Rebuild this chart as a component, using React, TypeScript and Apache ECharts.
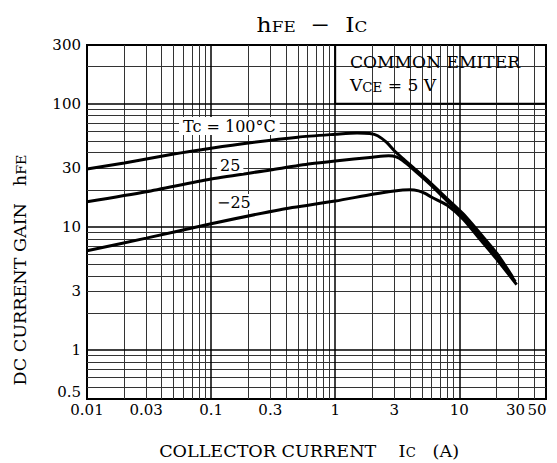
import React, { useEffect, useRef } from 'react';
import * as echarts from 'echarts';

const FONT = 'DejaVu Serif';

// Tick labels
const xTickValues = [0.01, 0.03, 0.1, 0.3, 1, 3, 10, 30, 50];
const xTickLabels = ['0.01', '0.03', '0.1', '0.3', '1', '3', '10', '30', '50'];
const yTickValues = [0.5, 1, 3, 10, 30, 100, 300];
const yTickLabels = ['0.5', '1', '3', '10', '30', '100', '300'];

// Grid line positions (data values)
const xMajorGrid = [0.1, 1, 10];
const xMinorGrid = [0.02, 0.03, 0.04, 0.05, 0.06, 0.07, 0.08, 0.09, 0.2, 0.3, 0.4, 0.5, 0.6, 0.7, 0.8, 0.9, 2, 3, 4, 5, 6, 7, 8, 9, 20, 30, 40];
const yMajorGrid = [1, 10, 100];
const yMinorGrid = [0.5, 0.6, 0.7, 0.8, 0.9, 2, 3, 4, 5, 6, 7, 8, 9, 20, 30, 40, 50, 60, 70, 80, 90, 200];

// Curves: [Ic (A), hFE]
const curve100: [number, number][] = [
  [0.01, 29.5], [0.02, 33], [0.05, 39], [0.1, 43.5], [0.2, 48], [0.5, 53.5], [1, 56.5], [1.5, 58],
  [1.9, 57.3], [2.2, 55], [2.6, 48.5], [3, 41.5], [3.5, 36], [4.26, 30.3], [5.8, 23], [8, 16.9],
  [10.8, 12.7], [14.8, 8.8], [20.2, 6.05], [27, 3.9],
];
const curve25: [number, number][] = [
  [0.01, 16], [0.03, 19.3], [0.1, 24.5], [0.3, 29], [0.63, 32.5], [1, 34.3], [2, 36.8], [2.7, 37.8],
  [3.1, 37], [3.5, 34.5], [4.26, 29.3], [5.8, 22.2], [8, 16.2], [10.8, 12.1], [14.8, 8.3], [20.2, 5.7], [28.3, 3.6],
];
const curveM25: [number, number][] = [
  [0.01, 6.4], [0.03, 8.1], [0.1, 10.6], [0.36, 13.8], [1, 16.2], [2, 18.4], [3, 19.6], [4, 20],
  [4.7, 19.6], [5.3, 18.7], [6, 17.4], [8, 15], [10.8, 11.5], [14.8, 7.85], [20.2, 5.4], [29, 3.4],
];

export default function App() {
  const ref = useRef<HTMLDivElement>(null);

  useEffect(() => {
    const el = ref.current!;
    const chart = echarts.init(el, null, { renderer: 'svg' });

    const baseAxis = {
      axisLine: { show: false },
      axisTick: { show: false },
      axisLabel: { show: false },
      splitLine: { show: false },
    };

    const gridLines: any[] = [
      ...xMinorGrid.map((v) => ({ xAxis: v, lineStyle: { color: '#333', width: 1, type: 'solid' } })),
      ...yMinorGrid.map((v) => ({ yAxis: v, lineStyle: { color: '#333', width: 1, type: 'solid' } })),
      ...xMajorGrid.map((v) => ({ xAxis: v, lineStyle: { color: '#000', width: 1.5, type: 'solid' } })),
      ...yMajorGrid.map((v) => ({ yAxis: v, lineStyle: { color: '#000', width: 1.5, type: 'solid' } })),
    ];

    const curve = (data: [number, number][]) => ({
      type: 'line',
      data,
      showSymbol: false,
      symbol: 'none',
      smooth: 0.25,
      silent: true,
      z: 5,
      lineStyle: { color: '#000', width: 3 },
    });

    chart.setOption({
      animation: false,
      backgroundColor: '#ffffff',
      textStyle: { fontFamily: FONT },
      grid: {
        left: 87, top: 45, width: 459, height: 354,
        show: true, borderColor: '#000', borderWidth: 2, backgroundColor: '#fff',
      },
      xAxis: { type: 'log', logBase: 10, min: 0.01, max: 50, ...baseAxis },
      yAxis: { type: 'log', logBase: 10, min: 0.4, max: 300, ...baseAxis },
      series: [
        {
          type: 'line', data: [], z: 1, silent: true,
          markLine: { silent: true, symbol: ['none', 'none'], label: { show: false }, animation: false, data: gridLines },
        },
        {
          type: 'line', data: [], z: 2, silent: true,
          markArea: {
            silent: true,
            label: { show: false },
            itemStyle: { color: '#fff', borderColor: '#000', borderWidth: 2 },
            data: [[{ xAxis: 1, yAxis: 100 }, { xAxis: 50, yAxis: 300 }]],
          },
        },
        curve(curve100),
        curve(curve25),
        curve(curveM25),
      ],
    });

    const toX = (v: number) => chart.convertToPixel({ xAxisIndex: 0 } as any, v) as unknown as number;
    const toY = (v: number) => chart.convertToPixel({ yAxisIndex: 0 } as any, v) as unknown as number;

    const txt = (x: number, y: number, text: string, align: string, vAlign: string, extra: any = {}, elExtra: any = {}) => ({
      type: 'text',
      x, y, z: 100,
      ...elExtra,
      style: {
        text,
        fontFamily: FONT,
        fontSize: 15,
        fill: '#000',
        align, textAlign: align,
        verticalAlign: vAlign, textVerticalAlign: vAlign,
        ...extra,
      },
    });

    const graphics: any[] = [];
    xTickValues.forEach((v, i) => {
      const dx = v === 50 ? -9 : v === 30 ? -3 : 0;
      graphics.push(txt(toX(v) + dx, 402, xTickLabels[i], 'center', 'top'));
    });
    yTickValues.forEach((v, i) => {
      const dy = v === 0.5 ? 5 : 0;
      graphics.push(txt(81, toY(v) + dy, yTickLabels[i], 'right', 'middle'));
    });

    // Title hFE - IC
    graphics.push(txt(312, 21.5, '{a|h}{b|FE}{a|  −  I}{c|C}', 'center', 'middle', {
      rich: {
        a: { fontFamily: FONT, fontSize: 21, lineHeight: 26, verticalAlign: 'bottom' },
        b: { fontFamily: FONT, fontSize: 15, lineHeight: 22, verticalAlign: 'bottom' },
        c: { fontFamily: FONT, fontSize: 15, lineHeight: 16, verticalAlign: 'bottom' },
      },
    }, { scaleX: 1.12 }));

    // Box texts
    graphics.push(txt(350, 63, 'COMMON EMITER', 'left', 'middle', { fontSize: 16 }, { scaleX: 1.07 }));
    graphics.push(txt(350, 84, '{a|V}{b|CE}{a| = 5 V}', 'left', 'middle', {
      rich: {
        a: { fontFamily: FONT, fontSize: 16, lineHeight: 20, verticalAlign: 'bottom' },
        b: { fontFamily: FONT, fontSize: 12.5, lineHeight: 10, verticalAlign: 'bottom' },
      },
    }, { scaleX: 1.07 }));

    // Curve labels
    const lbl = { fontSize: 16, backgroundColor: '#fff', padding: [1, 4] };
    graphics.push(txt(179, 126, 'Tc = 100°C', 'left', 'middle', lbl));
    graphics.push(txt(217, 165, '25', 'left', 'middle', { ...lbl, padding: [0, 3] }));
    graphics.push(txt(214, 202, '−25', 'left', 'middle', { ...lbl, padding: [0, 3] }));

    // X axis title
    graphics.push(txt(309, 449, '{a|COLLECTOR CURRENT    I}{c|C}{a|   (A)}', 'center', 'middle', {
      rich: {
        a: { fontFamily: FONT, fontSize: 16, lineHeight: 20, verticalAlign: 'bottom' },
        c: { fontFamily: FONT, fontSize: 12, lineHeight: 12, verticalAlign: 'bottom' },
      },
    }, { scaleX: 1.1 }));

    // Y axis title (rotated)
    graphics.push(txt(18, 270, '{a|DC CURRENT GAIN   h}{b|FE}', 'center', 'middle', {
      rich: {
        a: { fontFamily: FONT, fontSize: 16, lineHeight: 20, verticalAlign: 'bottom' },
        b: { fontFamily: FONT, fontSize: 13, lineHeight: 14, verticalAlign: 'bottom' },
      },
    }, { scaleX: 1.1, rotation: Math.PI / 2 }));

    chart.setOption({ graphic: graphics });

    return () => chart.dispose();
  }, []);

  return <div ref={ref} style={{ position: 'fixed', left: 0, top: 0, width: 557, height: 463 }} />;
}
